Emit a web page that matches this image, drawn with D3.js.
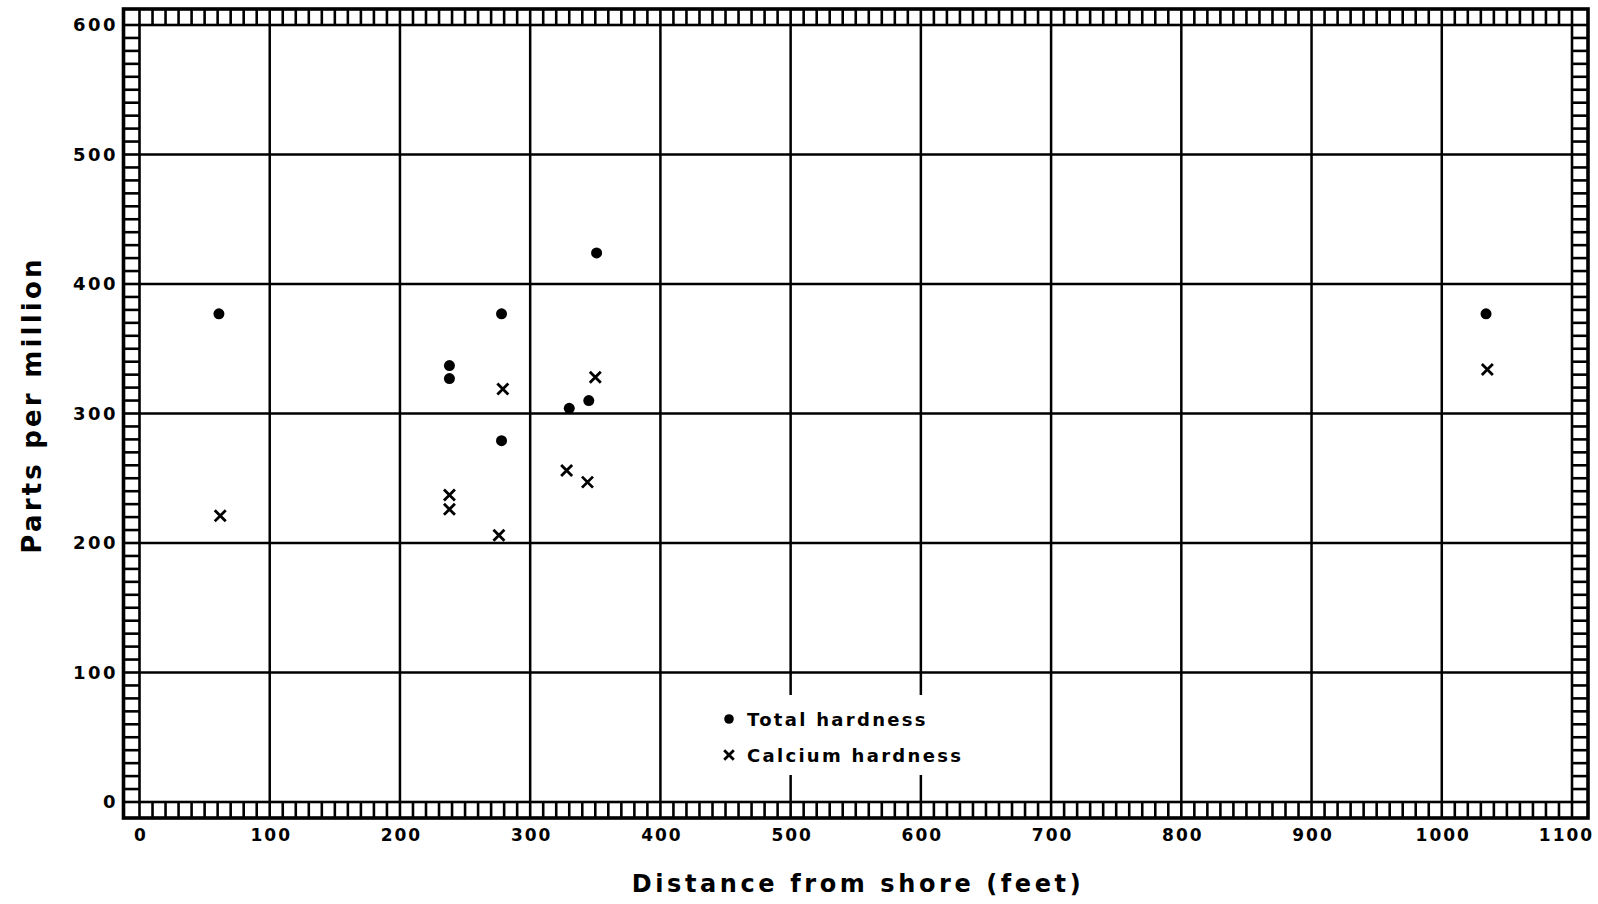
<!DOCTYPE html>
<html>
<head>
<meta charset="utf-8">
<script src="https://cdn.jsdelivr.net/npm/d3@7/dist/d3.min.js"></script>
<style>
  body { margin: 0; background: #fff; }
  text { font-family: "DejaVu Sans", sans-serif; fill: #000; font-weight: bold; }
</style>
</head>
<body>
<svg id="chart" width="1598" height="904"></svg>
<script>
// values
const totalDistance = [61, 238, 238, 278, 278, 330, 345, 351, 1034];
const totalPpm = [377, 337, 327, 377, 279, 304, 310, 424, 377];
const calciumDistance = [62, 238, 238, 279, 276, 328, 344, 350, 1035];
const calciumPpm = [221, 237, 226, 319, 206, 256, 247, 328, 334];
const xTicks = [0, 100, 200, 300, 400, 500, 600, 700, 800, 900, 1000, 1100];
const yTicks = [0, 100, 200, 300, 400, 500, 600];
const legendLabels = ["Total hardness", "Calcium hardness"];
const xTitle = "Distance from shore (feet)";
const yTitle = "Parts per million";

const svg = d3.select("#chart");
const x = d3.scaleLinear().domain([0, 1100]).range([139.5, 1572]);
const y = d3.scaleLinear().domain([0, 600]).range([802, 25]);
const band = 16;

// grid
svg.append("g").selectAll("line")
    .data(xTicks.slice(1, -1))
    .enter()
    .append("line")
    .attr("x1", d => x(d)).attr("x2", d => x(d))
    .attr("y1", y(600)).attr("y2", y(0))
    .attr("stroke", "#000").attr("stroke-width", 2.5);

svg.append("g").selectAll("line")
    .data(yTicks.slice(1, -1))
    .enter()
    .append("line")
    .attr("x1", x(0)).attr("x2", x(1100))
    .attr("y1", d => y(d)).attr("y2", d => y(d))
    .attr("stroke", "#000").attr("stroke-width", 2.5);

// ladder border
const frame = svg.append("g").attr("stroke", "#000").attr("fill", "none");
const x0 = x(0), x1 = x(1100), y0 = y(0), y1 = y(600);

x.ticks(110).forEach(function (d) {
    frame.append("line").attr("x1", x(d)).attr("x2", x(d))
        .attr("y1", y1 - band).attr("y2", y1).attr("stroke-width", 2.6);
    frame.append("line").attr("x1", x(d)).attr("x2", x(d))
        .attr("y1", y0).attr("y2", y0 + band).attr("stroke-width", 2.6);
});
y.ticks(60).forEach(function (d) {
    frame.append("line").attr("x1", x0 - band).attr("x2", x0)
        .attr("y1", y(d)).attr("y2", y(d)).attr("stroke-width", 2.6);
    frame.append("line").attr("x1", x1).attr("x2", x1 + band)
        .attr("y1", y(d)).attr("y2", y(d)).attr("stroke-width", 2.6);
});
frame.append("rect")
    .attr("x", x0).attr("y", y1)
    .attr("width", x1 - x0).attr("height", y0 - y1)
    .attr("stroke-width", 2.6);
frame.append("rect")
    .attr("x", x0 - band).attr("y", y1 - band)
    .attr("width", x1 - x0 + 2 * band).attr("height", y0 - y1 + 2 * band)
    .attr("stroke-width", 3.6);

// tick labels
const xAxis = svg.append("g")
    .attr("transform", "translate(0," + (y0 + band) + ")")
    .call(d3.axisBottom(x).tickValues(xTicks).tickFormat(d3.format("d")).tickSize(0).tickPadding(11));
xAxis.select(".domain").remove();
xAxis.selectAll("text")
    .attr("font-family", "DejaVu Sans").attr("font-size", 17)
    .style("letter-spacing", "2px")
    .attr("dx", d => d === 1100 ? -6 : 1);

const yAxis = svg.append("g")
    .attr("transform", "translate(" + (x0 - band) + ",0)")
    .call(d3.axisLeft(y).tickValues(yTicks).tickFormat(d3.format("d")).tickSize(0).tickPadding(8));
yAxis.select(".domain").remove();
yAxis.selectAll("text")
    .attr("font-family", "DejaVu Sans").attr("font-size", 18)
    .style("letter-spacing", "2.5px").attr("dx", 2.5);

// axis titles
svg.append("text")
    .attr("x", 858).attr("y", 892)
    .attr("text-anchor", "middle")
    .attr("font-size", 24)
    .style("letter-spacing", "3.6px")
    .text(xTitle);

svg.append("text")
    .attr("transform", "translate(41,405) rotate(-90)")
    .attr("text-anchor", "middle")
    .attr("font-size", 26)
    .style("letter-spacing", "3.2px")
    .text(yTitle);

// legend area blanks the grid
svg.append("rect")
    .attr("x", 702).attr("y", 695)
    .attr("width", 266).attr("height", 80)
    .attr("fill", "#fff");

function drawCross(g, cx, cy, s) {
    g.append("path")
        .attr("d", "M" + (cx - s) + "," + (cy - s) + "L" + (cx + s) + "," + (cy + s) +
                   "M" + (cx - s) + "," + (cy + s) + "L" + (cx + s) + "," + (cy - s))
        .attr("stroke", "#000").attr("stroke-width", 2.8).attr("fill", "none");
}

// points
svg.append("g").selectAll("circle")
    .data(d3.zip(totalDistance, totalPpm))
    .enter()
    .append("circle")
    .attr("cx", d => x(d[0]))
    .attr("cy", d => y(d[1]))
    .attr("r", 5.5)
    .attr("fill", "#000");

const crosses = svg.append("g");
d3.zip(calciumDistance, calciumPpm).forEach(function (d) {
    drawCross(crosses, x(d[0]), y(d[1]), 5.5);
});

// legend
const legend = svg.append("g");
legend.append("circle").attr("cx", 729).attr("cy", 719).attr("r", 4.8).attr("fill", "#000");
drawCross(legend, 729, 755, 4.8);
legend.selectAll("text")
    .data(legendLabels)
    .enter()
    .append("text")
    .attr("x", 747)
    .attr("y", (d, i) => 726 + i * 36)
    .attr("font-size", 18)
    .style("letter-spacing", "2.3px")
    .text(d => d);
</script>
</body>
</html>
